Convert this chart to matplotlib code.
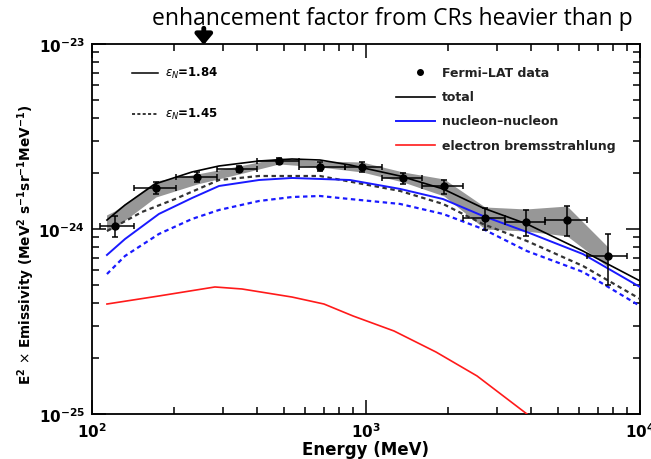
import numpy as np
import matplotlib.pyplot as plt
from matplotlib.ticker import FuncFormatter

# --- dane (E w MeV, emisyjnosc w 1e-24) ---
scale = 1e-24

# punkty Fermi-LAT
data_E = [121, 171, 242, 344, 481, 679, 967, 1365, 1926, 2718, 3837, 5415, 7641]
data_E_lo = [107, 142, 203, 286, 400, 570, 840, 1144, 1601, 2259, 3217, 4501, 6407]
data_E_hi = [142, 203, 286, 400, 570, 840, 1144, 1601, 2259, 3217, 4501, 6407, 8966]
data_y = [1.038, 1.666, 1.910, 2.110, 2.331, 2.163, 2.163, 1.887, 1.708, 1.147, 1.091, 1.118, 0.715]
data_y_lo = [0.905, 1.546, 1.795, 2.033, 2.246, 2.058, 2.033, 1.751, 1.546, 0.988, 0.917, 0.917, 0.498]
data_y_hi = [1.176, 1.795, 2.033, 2.191, 2.420, 2.302, 2.302, 2.007, 1.840, 1.299, 1.267, 1.331, 0.940]

# szare pasmo (systematyka)
band_E = [113, 121, 171, 242, 344, 481, 679, 967, 1365, 1926, 2718, 3837, 5415, 7641]
band_hi = [1.191, 1.252, 1.818, 1.983, 2.191, 2.420, 2.331, 2.302, 2.033, 1.863, 1.315, 1.283, 1.331, 0.799]
band_lo = [0.975, 1.012, 1.489, 1.751, 1.983, 2.246, 2.163, 2.033, 1.795, 1.508, 1.000, 0.975, 0.917, 0.623]

# total, eps_N = 1.84
tot_E = [113.4, 132, 169.8, 231.7, 290.8, 406.9, 537, 679.4, 874, 1331, 1910, 2673, 3868, 6194, 10000]
tot_y = [1.118, 1.348, 1.751, 2.033, 2.191, 2.331, 2.390, 2.360, 2.218, 1.934, 1.647, 1.299, 1.064, 0.760, 0.524]

# total, eps_N = 1.45
tot2_E = [113.4, 152.2, 200.9, 290.8, 406.9, 679.4, 1331, 1910, 2673, 3868, 6194, 10000]
tot2_y = [0.975, 1.236, 1.452, 1.840, 1.934, 1.934, 1.606, 1.366, 1.064, 0.861, 0.631, 0.419]

# nucleon-nucleon, eps_N = 1.84
nn_E = [113.4, 132, 175.5, 231.7, 290.8, 406.9, 537, 874, 1331, 1910, 2673, 3868, 6194, 10000]
nn_y = [0.724, 0.883, 1.206, 1.470, 1.708, 1.840, 1.887, 1.840, 1.647, 1.452, 1.176, 0.963, 0.732, 0.486]

# nucleon-nucleon, eps_N = 1.45
nn2_E = [113.4, 132, 175.5, 231.7, 290.8, 406.9, 537, 679.4, 874, 1331, 1910, 2673, 3868, 6194, 10000]
nn2_y = [0.571, 0.715, 0.940, 1.133, 1.267, 1.417, 1.489, 1.508, 1.452, 1.366, 1.206, 1.000, 0.760, 0.586, 0.3837]

# bremsstrahlung elektronow
br_E = [113.4, 175.5, 281.0, 352.7, 537, 702.5, 896.6, 1265.6, 1801, 2542, 3868]
br_y = [0.3931, 0.4345, 0.486, 0.474, 0.4288, 0.3931, 0.3388, 0.2810, 0.2163, 0.1606, 0.100]

x_ticks = [1e2, 1e3, 1e4]
y_ticks = [1e-25, 1e-24, 1e-23]
leg_txt = ['Fermi–LAT data', 'total', 'nucleon–nucleon', 'electron bremsstrahlung']
eps_txt = [r'$\epsilon_{N}$=1.84', r'$\epsilon_{N}$=1.45']


def s(v):
    return np.array(v) * scale


def pot(v, pos):
    return r'$\mathbf{10^{%d}}$' % int(round(np.log10(v)))


fig = plt.figure(figsize=(6.51, 4.60), dpi=100)
ax = fig.add_axes([0.1413, 0.0978, 0.8418, 0.8044])

ax.fill_between(band_E, s(band_lo), s(band_hi), color='#8c8c8c', lw=0, alpha=0.9, zorder=1)
ax.plot(tot_E, s(tot_y), color='black', lw=1.2, zorder=3)
ax.plot(tot2_E, s(tot2_y), color='#333333', lw=1.6, ls=(0, (2, 1.6)), zorder=3)
ax.plot(nn_E, s(nn_y), color='#1a1aff', lw=1.4, zorder=3)
ax.plot(nn2_E, s(nn2_y), color='#1a1aff', lw=1.6, ls=(0, (2, 1.6)), zorder=3)
ax.plot(br_E, s(br_y), color='#ff1a1a', lw=1.2, zorder=3)

yerr = [s(data_y) - s(data_y_lo), s(data_y_hi) - s(data_y)]
xerr = [np.array(data_E) - np.array(data_E_lo), np.array(data_E_hi) - np.array(data_E)]
ax.errorbar(data_E, s(data_y), xerr=xerr, yerr=yerr, fmt='o', color='black', ms=5,
            elinewidth=1.1, capsize=2.5, capthick=1.1, zorder=4)

ax.set_xscale('log')
ax.set_yscale('log')
ax.set_xlim(100, 10000)
ax.set_ylim(1e-25, 1e-23)
ax.set_xticks(x_ticks)
ax.set_yticks(y_ticks)
ax.xaxis.set_major_formatter(FuncFormatter(pot))
ax.yaxis.set_major_formatter(FuncFormatter(pot))

ax.tick_params(which='both', direction='in', top=True, right=True, width=1.1)
ax.tick_params(which='major', length=10, labelsize=11, pad=5)
ax.tick_params(which='minor', length=5)
for sp in ax.spines.values():
    sp.set_linewidth(1.3)

ax.set_xlabel('Energy (MeV)', fontsize=12, fontweight='bold', labelpad=0)
ax.set_ylabel(r'E$^\mathbf{2}$ $\times$ Emissivity (MeV$^\mathbf{2}$ s$^\mathbf{-1}$sr$^\mathbf{-1}$MeV$^\mathbf{-1}$)',
              fontsize=9.8, fontweight='bold')
ax.yaxis.set_label_coords(-0.1, 0.46)

# legenda prawa
leg_y = [0.924, 0.857, 0.792, 0.727]
ax.plot([0.599], [leg_y[0]], 'o', color='black', ms=4, transform=ax.transAxes)
ax.plot([0.555, 0.626], [leg_y[1]] * 2, color='black', lw=1.2, transform=ax.transAxes)
ax.plot([0.555, 0.626], [leg_y[2]] * 2, color='#1a1aff', lw=1.4, transform=ax.transAxes)
ax.plot([0.555, 0.626], [leg_y[3]] * 2, color='#ff1a1a', lw=1.2, transform=ax.transAxes)
for t, yy in zip(leg_txt, leg_y):
    ax.text(0.639, yy, t, transform=ax.transAxes, fontsize=9, fontweight='bold',
            color='#222222', va='center')

# legenda lewa
ax.plot([0.073, 0.12], [0.922, 0.922], color='black', lw=1.1, transform=ax.transAxes)
ax.plot([0.073, 0.12], [0.811, 0.811], color='black', lw=1.1, ls=(0, (2, 1.5)), transform=ax.transAxes)
ax.text(0.133, 0.922, eps_txt[0], transform=ax.transAxes, fontsize=8.5,
        fontweight='bold', va='center')
ax.text(0.133, 0.811, eps_txt[1], transform=ax.transAxes, fontsize=8.5,
        fontweight='bold', va='center')

# adnotacja nad wykresem
fig.text(0.602, 0.958, 'enhancement factor from CRs heavier than p', fontsize=16.5,
         family='Open Sans', ha='center', va='center')
ax.annotate('', xy=(0.204, 0.99), xytext=(0.204, 1.05), xycoords='axes fraction',
            arrowprops=dict(arrowstyle='-|>,head_width=0.5,head_length=0.6', color='black', lw=3.5),
            annotation_clip=False)

plt.savefig('out.png', dpi=100)
